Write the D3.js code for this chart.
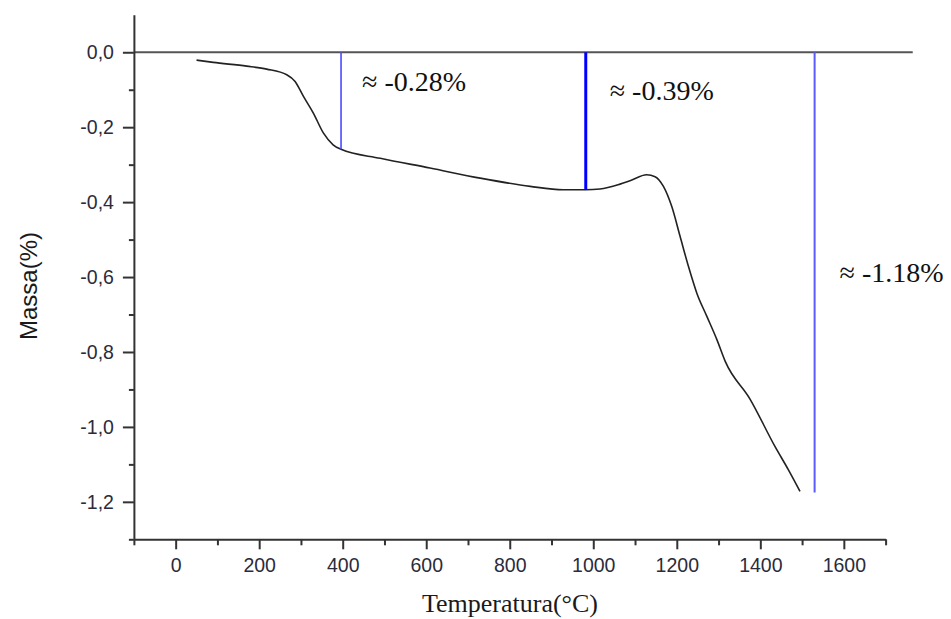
<!DOCTYPE html>
<html>
<head>
<meta charset="utf-8">
<script src="https://cdn.jsdelivr.net/npm/d3@7"></script>
<style>
  html, body { margin: 0; padding: 0; background: #fff; }
  svg { display: block; }
</style>
</head>
<body>
<svg id="chart" width="951" height="619"></svg>
<script>
// Thermogravimetric curve: temperature (°C) vs. mass change (%)
const temperatura = [50, 90, 170, 218, 266, 286, 306, 330, 354, 377, 396, 490, 609, 729, 849, 928, 982, 1016, 1064, 1088, 1128, 1148, 1168, 1188, 1208, 1228, 1248, 1272, 1296, 1316, 1375, 1435, 1467, 1495];
const massa       = [-0.021, -0.027, -0.037, -0.045, -0.060, -0.078, -0.118, -0.163, -0.216, -0.247, -0.259, -0.283, -0.309, -0.336, -0.358, -0.367, -0.367, -0.365, -0.352, -0.343, -0.327, -0.332, -0.358, -0.412, -0.492, -0.572, -0.643, -0.705, -0.767, -0.825, -0.925, -1.052, -1.114, -1.172];

// Mass-loss steps marked with vertical lines
const stepTemps   = [396, 982, 1530];
const stepEnds    = [-0.259, -0.367, -1.175];
const stepLabels  = ["≈ -0.28%", "≈ -0.39%", "≈ -1.18%"];

const xMajorTicks = [0, 200, 400, 600, 800, 1000, 1200, 1400, 1600];
const xMinorTicks = [-100, 100, 300, 500, 700, 900, 1100, 1300, 1500, 1700];
const yMajorTicks = [0, -0.2, -0.4, -0.6, -0.8, -1.0, -1.2];
const yMinorTicks = [-0.1, -0.3, -0.5, -0.7, -0.9, -1.1, -1.3];

const svg = d3.select("#chart");

const x = d3.scaleLinear().domain([-100, 1700]).range([133.9, 885.6]);
const y = d3.scaleLinear().domain([0.1, -1.3]).range([14.8, 539.3]);

const axisColor = "#333";
const labelColor = "#2b2b3b";
const fmtY = v => d3.format(".1f")(v).replace("−", "-").replace(".", ",");

// Reference line at zero mass change
svg.append("line")
  .attr("x1", x(-100)).attr("x2", x(1765))
  .attr("y1", y(0)).attr("y2", y(0))
  .attr("stroke", "#555").attr("stroke-width", 2);

// Y axis
const yAxisG = svg.append("g").attr("transform", `translate(${x(-100)},0)`);
yAxisG.call(d3.axisLeft(y).tickValues(yMajorTicks).tickSize(11).tickSizeOuter(0).tickPadding(9).tickFormat(fmtY));
yAxisG.append("g").call(d3.axisLeft(y).tickValues(yMinorTicks).tickSize(5).tickFormat(""))
  .select(".domain").remove();

// X axis
const xAxisG = svg.append("g").attr("transform", `translate(0,${y(-1.3)})`);
xAxisG.call(d3.axisBottom(x).tickValues(xMajorTicks).tickSize(10).tickSizeOuter(0).tickPadding(9).tickFormat(d3.format("d")));
xAxisG.append("g").call(d3.axisBottom(x).tickValues(xMinorTicks).tickSize(6).tickFormat(""))
  .select(".domain").remove();

svg.selectAll(".domain").attr("stroke", axisColor).attr("stroke-width", 2);
svg.selectAll(".tick line").attr("stroke", axisColor).attr("stroke-width", 2);
svg.selectAll(".tick text")
  .attr("fill", labelColor)
  .style("font-family", "'Liberation Sans', Arial, sans-serif")
  .style("font-size", "19.5px");

// Axis titles
svg.append("text")
  .attr("transform", `translate(37,286) rotate(-90)`)
  .attr("text-anchor", "middle")
  .style("font-family", "'Liberation Sans', Arial, sans-serif")
  .style("font-size", "24px")
  .attr("fill", "#1a1a1a")
  .text("Massa(%)");

svg.append("text")
  .attr("x", 510).attr("y", 612)
  .attr("text-anchor", "middle")
  .style("font-family", "'Liberation Serif', 'Times New Roman', serif")
  .style("font-size", "26px")
  .attr("fill", "#1a1a1a")
  .text("Temperatura(°C)");

// TG curve
const curvePoints = temperatura.map((t, i) => [t, massa[i]]);
svg.append("path")
  .datum(curvePoints)
  .attr("fill", "none")
  .attr("stroke", "#222")
  .attr("stroke-width", 1.6)
  .attr("d", d3.line().x(d => x(d[0])).y(d => y(d[1])).curve(d3.curveMonotoneX));

// Step markers and their labels
const stepStroke = ["#4a4aff", "#0000ff", "#5a5aff"];
const stepWidth = [1.6, 3, 2];
const labelDx = [21, 24, 25];
const labelDy = [39, 48, 230];

stepTemps.forEach((t, i) => {
  svg.append("line")
    .attr("x1", x(t)).attr("x2", x(t))
    .attr("y1", y(0)).attr("y2", y(stepEnds[i]))
    .attr("stroke", stepStroke[i])
    .attr("stroke-width", stepWidth[i]);
  svg.append("text")
    .attr("x", x(t) + labelDx[i])
    .attr("y", y(0) + labelDy[i])
    .style("font-family", "'Liberation Serif', 'Times New Roman', serif")
    .style("font-size", "28px")
    .attr("fill", "#111")
    .text(stepLabels[i]);
});
</script>
</body>
</html>
